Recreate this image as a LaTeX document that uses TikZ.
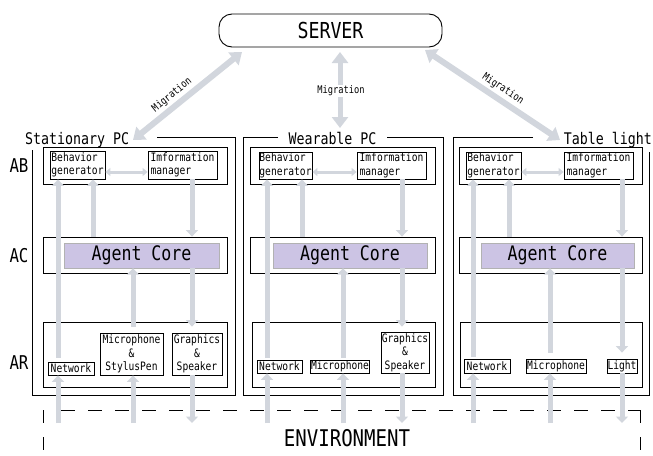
\documentclass[tikz,border=0pt]{standalone}
\usepackage{fontspec}
\setmainfont{DejaVu Sans}
\newfontfamily\gf[FakeStretch=0.83]{DejaVu Sans Mono}
\usetikzlibrary{arrows.meta}
\definecolor{agray}{RGB}{210,214,221}
\definecolor{acfill}{RGB}{204,196,228}
\begin{document}
\begin{tikzpicture}[x=1pt,y=-1pt,
  lbl/.style={draw, line width=0.8pt, inner sep=0.5pt, font=\gf\fontsize{11.6}{13.5}\selectfont},
  rowbox/.style={draw, line width=0.8pt, inner sep=0pt, minimum height=36pt},
  corebox/.style={draw=gray!60, fill=acfill, inner sep=0pt, minimum height=25pt, font=\gf\fontsize{20}{22}\selectfont},
  varrow/.style={draw=agray, line width=5pt, -{Triangle[width=12pt,length=6.5pt]}},
  harrow/.style={draw=agray, line width=3pt, {Triangle[width=8pt,length=5pt]}-{Triangle[width=8pt,length=5pt]}},
  marrow/.style={draw=agray, line width=6pt, {Triangle[width=16pt,length=11pt]}-{Triangle[width=16pt,length=11pt]}},
  devframe/.style={line width=0.9pt},
  ttl/.style={font=\gf\fontsize{16}{18}\selectfont, inner sep=0pt},
  mig/.style={font=\gf\fontsize{10.5}{12}\selectfont, inner sep=1pt},
  layerlbl/.style={font=\gf\fontsize{19}{21}\selectfont, inner sep=0pt}
]
\useasboundingbox (0,0) rectangle (653,455);

% server
\node[draw, line width=0.9pt, rounded corners=13pt, minimum width=223pt, minimum height=33pt,
      font=\gf\fontsize{22}{24}\selectfont] (server) at (330.5,30.5) {SERVER};

% titles
\node[ttl, anchor=base west] (tS) at (25,144) {Stationary PC};
\node[ttl, anchor=base] (tW) at (332.5,144) {Wearable PC};
\node[ttl, anchor=base east] (tT) at (652,144) {Table light};

% device frames
\draw[devframe] (157,137) -- (235,137) -- (235,395) -- (32,395) -- (32,150);
\draw[devframe] (278,137) -- (243,137) -- (243,395) -- (443,395) -- (443,137) -- (387,137);
\draw[devframe] (533,137) -- (453,137) -- (453,395) -- (649,395) -- (649,152);

% layer labels
\node[layerlbl] (labAB) at (19,166) {AB};
\node[layerlbl] (labAC) at (19,256) {AC};
\node[layerlbl] (labAR) at (19,363) {AR};

% environment
\draw[line width=1pt, dash pattern=on 13pt off 14pt] (43,410) -- (43,455);
\draw[line width=1pt, dash pattern=on 14pt off 13pt, dash phase=-3pt] (58,410) -- (640,410);
\draw[line width=1pt, dash pattern=on 13pt off 14pt] (640,410) -- (640,455);
\node[font=\gf\fontsize{23}{25}\selectfont, inner sep=0pt] (env) at (347,438) {ENVIRONMENT};

% ---------- Stationary PC ----------
\node[rowbox, minimum width=184pt, minimum height=37pt] (abS) at (135,165.5) {};
\node[lbl, minimum width=55pt, minimum height=28pt, align=left] (bgS) at (77.5,165) {Behavior\\generator};
\node[lbl, minimum width=69pt, minimum height=28pt, align=left] (imS) at (182.5,165) {Imformation\\manager};
\node[rowbox, minimum width=184pt] (acS) at (135,255) {};
\node[corebox, minimum width=155pt] (coreS) at (141.5,255.5) {Agent Core};
\node[rowbox, minimum width=184pt, minimum height=65pt] (arS) at (135,354.5) {};
\node[lbl, minimum width=46pt, minimum height=13pt] (netS) at (71,368.5) {Network};
\node[lbl, minimum width=63pt, minimum height=42pt, align=center] (micS) at (131.5,354) {Microphone\\\&\\StylusPen};
\node[lbl, minimum width=50pt, minimum height=42pt, align=center] (gsS) at (197,354) {Graphics\\\&\\Speaker};

% ---------- Wearable PC ----------
\node[rowbox, minimum width=185pt, minimum height=37pt] (abW) at (342.5,165.5) {};
\node[lbl, minimum width=53pt, minimum height=27pt, align=left] (bgW) at (285.5,165.5) {Behavior\\generator};
\node[lbl, minimum width=69pt, minimum height=27pt, align=left] (imW) at (391.5,165.5) {Imformation\\manager};
\node[rowbox, minimum width=185pt] (acW) at (342.5,255) {};
\node[corebox, minimum width=154pt] (coreW) at (350,255.5) {Agent Core};
\node[rowbox, minimum width=183pt, minimum height=65pt] (arW) at (343.5,354.5) {};
\node[lbl, minimum width=45pt, minimum height=13pt] (netW) at (279.5,366.5) {Network};
\node[lbl, minimum width=58pt, minimum height=13pt] (micW) at (340,366.5) {Microphone};
\node[lbl, minimum width=48pt, minimum height=41pt, align=center] (gsW) at (405,352.5) {Graphics\\\&\\Speaker};

% ---------- Table light ----------
\node[rowbox, minimum width=183pt, minimum height=37pt] (abT) at (550.5,165.5) {};
\node[lbl, minimum width=55pt, minimum height=27pt, align=left] (bgT) at (493.5,165.5) {Behavior\\generator};
\node[lbl, minimum width=69pt, minimum height=27pt, align=left] (imT) at (598.5,165.5) {Imformation\\manager};
\node[rowbox, minimum width=183pt] (acT) at (550.5,255) {};
\node[corebox, minimum width=153pt] (coreT) at (557.5,255.5) {Agent Core};
\node[rowbox, minimum width=182pt, minimum height=65pt] (arT) at (551,354.5) {};
\node[lbl, minimum width=46pt, minimum height=14pt] (netT) at (487,366) {Network};
\node[lbl, minimum width=60pt, minimum height=14pt] (micT) at (556,366) {Microphone};
\node[lbl, minimum width=30pt, minimum height=14pt] (lightT) at (622,366) {Light};

% ---------- migration arrows ----------
\coordinate (mL0) at (133,140); \coordinate (mL1) at (242,52);
\coordinate (mM0) at (340,128); \coordinate (mM1) at (340,52);
\coordinate (mR0) at (560,140); \coordinate (mR1) at (425,50);
\draw[marrow] (mL0) -- (mL1);
\draw[marrow, line width=5pt] (mM0) -- (mM1);
\draw[marrow] (mR0) -- (mR1);
\node[mig, rotate=39] (migL) at (172,95) {Migration};
\node[mig, fill=white] (migM) at (341,91) {Migration};
\node[mig, rotate=-34] (migR) at (503,89) {Migration};

% ---------- internal arrows: Stationary ----------
\draw[harrow] (bgS.east |- 0,172) -- (imS.west |- 0,172);
\draw[varrow, shorten <=4pt] (58,0 |- netS.north) -- (58,0 |- bgS.south);
\draw[varrow] (93,0 |- acS.north) -- (93,0 |- bgS.south);
\draw[varrow] (192,0 |- imS.south) -- (192,0 |- acS.north);
\draw[varrow, shorten <=-5pt] (133,0 |- arS.north) -- (133,0 |- coreS.south);
\draw[varrow, shorten >=-5pt] (192,0 |- coreS.south) -- (192,0 |- arS.north);
\draw[varrow] (58,423) -- (58,0 |- netS.south);
\draw[varrow] (133,423) -- (133,0 |- micS.south);
\draw[varrow] (192,0 |- gsS.south) -- (192,423);

% ---------- internal arrows: Wearable ----------
\draw[harrow] (bgW.east |- 0,172) -- (imW.west |- 0,172);
\draw[varrow, shorten <=2pt] (267,0 |- netW.north) -- (267,0 |- bgW.south);
\draw[varrow] (302,0 |- acW.north) -- (302,0 |- bgW.south);
\draw[varrow] (402,0 |- imW.south) -- (402,0 |- acW.north);
\draw[varrow, shorten <=2pt] (343,0 |- micW.north) -- (343,0 |- coreW.south);
\draw[varrow, shorten >=5pt] (402,0 |- coreW.south) -- (402,0 |- gsW.north);
\draw[varrow] (267,423) -- (267,0 |- netW.south);
\draw[varrow] (343,423) -- (343,0 |- micW.south);
\draw[varrow] (402,0 |- gsW.south) -- (402,423);

% ---------- internal arrows: Table light ----------
\draw[harrow] (bgT.east |- 0,172) -- (imT.west |- 0,172);
\draw[varrow, shorten <=2pt] (473,0 |- netT.north) -- (473,0 |- bgT.south);
\draw[varrow] (509,0 |- acT.north) -- (509,0 |- bgT.south);
\draw[varrow] (622,0 |- imT.south) -- (622,0 |- acT.north);
\draw[varrow, shorten <=6pt] (550,0 |- micT.north) -- (550,0 |- coreT.south);
\draw[varrow, shorten >=6pt] (622,0 |- coreT.south) -- (622,0 |- lightT.north);
\draw[varrow] (473,423) -- (473,0 |- netT.south);
\draw[varrow] (550,423) -- (550,0 |- micT.south);
\draw[varrow] (622,0 |- lightT.south) -- (622,423);
\end{tikzpicture}
\end{document}
